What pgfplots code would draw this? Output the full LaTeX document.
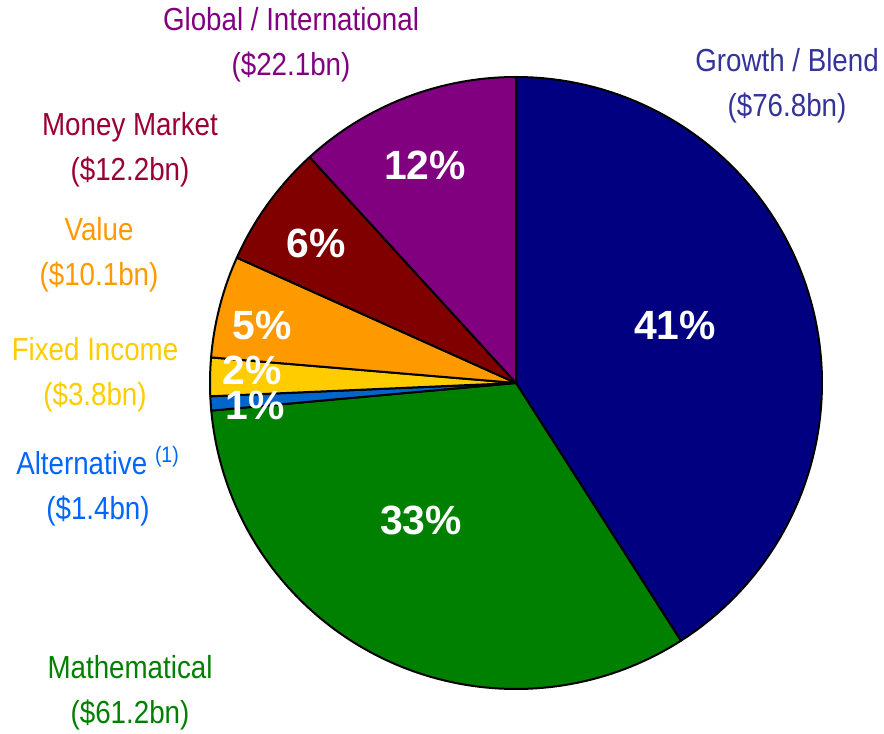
\documentclass[border=0pt]{standalone}
\usepackage{pgfplots}
\pgfplotsset{compat=1.18}
\usepackage{fontspec}
\setmainfont[FakeStretch=0.87]{Liberation Sans}
\newfontfamily\pctfont{Liberation Sans}
\definecolor{cGrowth}{RGB}{0,0,128}
\definecolor{cMath}{RGB}{0,128,0}
\definecolor{cAlt}{RGB}{0,102,204}
\definecolor{cFixed}{RGB}{255,204,0}
\definecolor{cValue}{RGB}{255,153,0}
\definecolor{cMM}{RGB}{128,0,0}
\definecolor{cGlobal}{RGB}{128,0,128}
\definecolor{tGrowth}{RGB}{51,51,153}
\definecolor{tMath}{RGB}{0,128,0}
\definecolor{tAlt}{RGB}{0,102,255}
\definecolor{tFixed}{RGB}{255,204,0}
\definecolor{tValue}{RGB}{255,153,0}
\definecolor{tMM}{RGB}{153,0,51}
\definecolor{tGlobal}{RGB}{128,0,128}
\begin{document}
\begin{tikzpicture}
% values in $bn
\def\vGrowth{76.8}\def\vMath{61.2}\def\vAlt{1.4}\def\vFixed{3.8}
\def\vValue{10.1}\def\vMM{12.2}\def\vGlobal{22.1}
\pgfmathsetmacro\tot{\vGrowth+\vMath+\vAlt+\vFixed+\vValue+\vMM+\vGlobal}
\pgfmathsetmacro\k{360/\tot}
\pgfmathsetmacro\aA{90}
\pgfmathsetmacro\aB{\aA-\k*\vGrowth}
\pgfmathsetmacro\aC{\aB-\k*\vMath}
\pgfmathsetmacro\aD{\aC-\k*\vAlt}
\pgfmathsetmacro\aE{\aD-\k*\vFixed}
\pgfmathsetmacro\aF{\aE-\k*\vValue}
\pgfmathsetmacro\aG{\aF-\k*\vMM}
\pgfmathsetmacro\aH{\aG-\k*\vGlobal}
\begin{axis}[name=ax, width=442bp, height=367bp, scale only axis,
  xmin=0, xmax=884, ymin=0, ymax=734, axis lines=none, clip=false]
\pgfplotsset{every axis plot/.append style={draw=black, line width=1bp, line join=round, samples=90, variable=\t}}
\addplot[fill=cGrowth, domain=\aB:\aA] ({516+306*cos(t)},{351+306*sin(t)}) -- (axis cs:516,351) -- cycle;
\addplot[fill=cMath, domain=\aC:\aB] ({516+306*cos(t)},{351+306*sin(t)}) -- (axis cs:516,351) -- cycle;
\addplot[fill=cAlt, domain=\aD:\aC] ({516+306*cos(t)},{351+306*sin(t)}) -- (axis cs:516,351) -- cycle;
\addplot[fill=cFixed, domain=\aE:\aD] ({516+306*cos(t)},{351+306*sin(t)}) -- (axis cs:516,351) -- cycle;
\addplot[fill=cValue, domain=\aF:\aE] ({516+306*cos(t)},{351+306*sin(t)}) -- (axis cs:516,351) -- cycle;
\addplot[fill=cMM, domain=\aG:\aF] ({516+306*cos(t)},{351+306*sin(t)}) -- (axis cs:516,351) -- cycle;
\addplot[fill=cGlobal, domain=\aH:\aG] ({516+306*cos(t)},{351+306*sin(t)}) -- (axis cs:516,351) -- cycle;
% percentage labels
\tikzset{pct/.style={text=white, font=\pctfont\bfseries\fontsize{20.5}{22}\selectfont, inner sep=0pt}}
\node[pct] at (axis cs:675,409) {41\%};
\node[pct] at (axis cs:421,214) {33\%};
\node[pct] at (axis cs:425,569) {12\%};
\node[pct] at (axis cs:316,491) {6\%};
\node[pct] at (axis cs:262,409) {5\%};
\node[pct] at (axis cs:252,364) {2\%};
\node[pct] at (axis cs:255,329) {1\%};
% outside labels
\tikzset{lab/.style={font=\fontsize{16}{22.5}\selectfont, align=center, inner sep=0pt}}
\node[lab, text=tGlobal] at (axis cs:291,689) {Global / International\\(\$22.1bn)};
\node[lab, text=tGrowth] at (axis cs:787,648) {Growth / Blend\\(\$76.8bn)};
\node[lab, text=tMM] at (axis cs:130,584) {Money Market\\(\$12.2bn)};
\node[lab, text=tValue] at (axis cs:99,479) {Value\\(\$10.1bn)};
\node[lab, text=tFixed] at (axis cs:95,359) {Fixed Income\\(\$3.8bn)};
\node[lab, text=tAlt] at (axis cs:98,248) {Alternative \textsuperscript{(1)}\\(\$1.4bn)};
\node[lab, text=tMath] at (axis cs:130,41) {Mathematical\\(\$61.2bn)};
\end{axis}
\pgfresetboundingbox
\path (ax.south west) rectangle (ax.north east);
\end{tikzpicture}
\end{document}
